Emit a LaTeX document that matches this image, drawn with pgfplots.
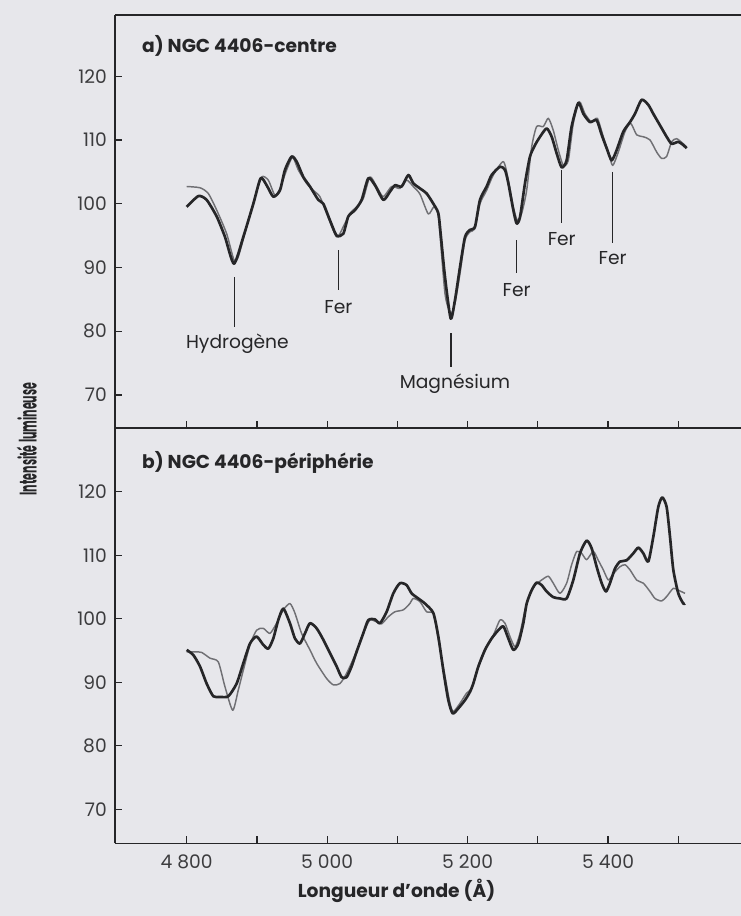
\documentclass[border=0pt]{standalone}
\usepackage{pgfplots}
\pgfplotsset{compat=1.18}
\usepackage{fontspec}
\setmainfont{Poppins}
\usepackage{graphicx}
\definecolor{bg}{RGB}{231,231,235}
\definecolor{ink}{RGB}{38,38,40}
\definecolor{tickc}{RGB}{60,60,62}
\definecolor{grayline}{RGB}{112,112,116}

\pgfplotstableread{
x y
4800 99.5
4816.6 101.2
4828.4 100.6
4842.7 98.0
4854.5 94.8
4867.3 90.6
4880.6 94.8
4894.9 100.0
4905.3 104.0
4913.8 102.9
4923.3 101.1
4932.8 102.1
4939.9 105.3
4949.4 107.4
4956.6 106.6
4966.0 104.2
4975.5 102.7
4987.4 100.6
4994.5 100.0
5004.0 97.4
5013.5 95.0
5023.0 95.3
5030.1 98.0
5039.6 99.0
5049.1 100.6
5058.6 104.0
5068.1 102.9
5080.0 100.6
5089.5 101.9
5096.6 102.9
5106.1 102.7
5115.6 104.5
5122.7 103.2
5132.2 102.4
5141.7 101.6
5151.2 100.0
5158.3 98.5
5161.6 95.3
5167.8 88.5
5175.9 82.0
5182.0 84.9
5189.2 90.1
5196.3 94.8
5203.4 95.9
5210.5 96.4
5217.6 100.6
5227.1 102.7
5234.2 104.5
5246.1 105.8
5253.2 105.3
5258.0 103.2
5265.1 99.0
5269.8 96.9
5274.6 97.9
5281.7 103.2
5288.8 107.4
5296.0 109.2
5303.1 110.5
5312.5 111.8
5319.7 110.5
5326.8 107.9
5333.9 105.7
5341.0 106.8
5348.1 112.1
5357.6 115.8
5364.8 114.1
5374.2 112.8
5383.7 113.1
5390.9 110.8
5398.0 108.7
5405.1 106.8
5412.2 108.4
5421.7 111.3
5431.2 112.8
5438.3 114.1
5447.8 116.3
5457.3 115.5
5464.4 114.1
5473.9 112.3
5483.4 110.5
5490.5 109.4
5500.0 109.7
5507.1 109.2
5511.9 108.7
}\centreA

\pgfplotstableread{
x y
4800 102.7
4819.0 102.5
4830.8 101.6
4842.7 99.0
4856.9 95.3
4867.3 91.2
4873.5 91.7
4885.4 96.4
4897.2 101.1
4906.7 104.2
4916.2 103.7
4925.7 101.3
4932.8 102.4
4942.3 105.3
4950.8 107.3
4958.9 105.3
4970.7 103.2
4980.2 102.1
4989.7 101.1
4999.2 98.5
5013.5 94.8
5023.0 96.4
5032.5 98.5
5041.9 99.5
5051.4 100.8
5060.9 104.2
5070.4 102.7
5079.9 101.1
5091.8 102.7
5103.6 102.4
5113.1 103.7
5122.6 102.7
5132.2 101.5
5144.0 98.4
5152.0 99.5
5158.3 98.0
5167.8 85.9
5175.9 82.8
5182.0 84.4
5189.2 89.1
5196.3 94.3
5203.4 95.6
5210.5 96.1
5217.6 100.0
5227.1 102.1
5236.6 104.5
5250.9 106.6
5258.0 103.7
5265.1 99.5
5270.8 97.4
5277.0 98.5
5284.1 102.1
5291.2 108.9
5298.3 112.1
5307.8 112.1
5314.9 113.4
5322.0 111.5
5329.2 108.4
5336.3 106.0
5343.4 106.8
5350.5 112.6
5359.0 116.0
5367.1 114.1
5376.6 112.8
5384.7 113.4
5393.2 110.5
5400.4 108.1
5406.5 106.0
5414.6 108.1
5424.1 111.3
5432.2 112.6
5440.7 110.8
5450.2 110.5
5459.7 110.0
5469.2 108.1
5476.3 107.1
5483.4 107.4
5490.5 109.7
5497.7 110.2
5507.1 109.4
5511.9 108.9
}\centreB

\pgfplotstableread{
x y
4800 95.1
4809.4 94.3
4818.9 92.5
4828.4 89.8
4837.9 87.8
4847.4 87.7
4859.2 87.8
4871.1 89.8
4880.6 93.0
4890.1 96.1
4899.5 97.2
4909.0 95.9
4916.2 95.3
4923.3 96.9
4930.4 99.8
4937.6 101.6
4947.0 99.3
4954.1 96.9
4961.3 96.1
4968.4 97.7
4975.5 99.3
4985.0 98.5
4994.5 96.7
5004.0 94.6
5013.5 92.5
5020.6 90.8
5027.7 90.8
5034.8 92.5
5041.9 94.8
5051.4 97.7
5058.6 99.8
5068.1 99.9
5075.2 99.3
5084.7 101.1
5094.2 104.0
5103.6 105.6
5113.1 105.3
5120.3 104.0
5129.7 103.2
5139.2 102.4
5151.2 100.9
5158.3 97.2
5165.4 91.9
5172.5 87.2
5178.7 85.1
5186.8 85.9
5196.3 87.2
5203.4 88.5
5208.1 89.8
5215.3 92.5
5224.7 95.1
5234.2 96.9
5243.7 98.2
5250.9 98.8
5258.0 96.9
5265.1 95.1
5272.2 96.1
5279.3 99.3
5284.1 102.4
5291.2 104.5
5298.3 105.7
5305.4 105.3
5312.5 104.3
5322.0 103.4
5331.5 103.2
5341.0 103.2
5350.5 106.1
5360.0 110.3
5369.5 112.3
5376.6 111.1
5383.7 108.2
5390.9 105.6
5397.0 104.3
5402.7 105.6
5409.8 107.9
5417.0 109.0
5426.4 109.2
5435.9 110.3
5443.1 111.2
5450.2 110.3
5457.3 109.0
5464.4 112.9
5471.5 117.6
5477.2 119.1
5483.4 117.6
5488.2 112.9
5492.9 107.7
5500.0 104.0
5507.1 102.4
5509.5 102.4
}\periA

\pgfplotstableread{
x y
4800 94.8
4811.8 94.8
4821.3 94.7
4833.2 93.8
4845.0 93.2
4854.5 89.3
4865.5 85.6
4873.5 88.8
4880.6 91.9
4890.1 95.9
4899.5 98.2
4909.0 98.5
4918.5 97.7
4928.0 99.3
4937.6 101.4
4947.0 102.4
4954.1 100.9
4963.6 97.7
4975.5 95.1
4985.0 93.0
4999.2 90.6
5008.7 89.6
5018.2 89.8
5027.7 91.4
5039.6 94.3
5051.4 97.7
5060.9 99.8
5070.4 99.5
5077.5 99.2
5087.0 100.3
5096.5 101.1
5108.4 101.4
5117.8 102.4
5122.6 103.2
5132.1 102.7
5141.6 101.1
5151.1 100.8
5158.3 96.7
5167.8 90.9
5174.9 86.7
5179.7 85.4
5189.2 86.7
5198.6 88.3
5205.8 89.0
5210.5 90.9
5217.6 93.0
5227.1 95.6
5236.6 97.4
5246.1 99.8
5253.2 99.3
5260.3 97.2
5267.5 95.6
5274.6 97.7
5281.7 101.4
5288.8 104.0
5296.0 105.3
5305.4 106.1
5314.9 106.7
5322.0 105.6
5331.5 104.0
5341.0 105.6
5348.1 108.5
5355.3 110.6
5362.4 110.3
5369.5 109.3
5379.0 110.6
5386.1 109.2
5393.2 107.7
5400.4 106.1
5407.5 107.1
5417.0 108.2
5424.1 108.5
5431.2 107.7
5440.7 106.1
5450.2 105.6
5459.7 104.3
5466.8 103.2
5476.3 102.8
5483.4 103.5
5492.9 104.8
5500.0 104.5
5509.5 104.0
}\periB

\pgfplotsset{
  panel/.style={
    scale only axis,
    width=469.5pt,
    xmin=4697.9, xmax=5589.3,
    axis y line*=left,
    axis line style={-, draw=ink, line width=1.2pt},
    xtick={4800,4900,...,5500},
    xtick pos=left,
    ytick={70,80,90,100,110,120},
    yticklabels={70,80,90,100,110,120},
    ytick pos=left,
    tick align=inside,
    major tick length=5.25pt,
    tick style={draw=ink, line width=0.9pt},
    yticklabel style={font=\fontsize{14}{14}\selectfont, text=tickc, anchor=east, inner sep=0pt, xshift=-6pt},
  },
  thick line/.style={ink, line width=2pt, smooth, tension=0.4, line join=round},
  thin line/.style={grayline, line width=1.1pt, smooth, tension=0.4, line join=round},
  mark line/.style={ink, line width=1pt, forget plot},
}

\begin{document}
\begin{tikzpicture}[x=1pt,y=1pt]
\fill[bg] (0,0) rectangle (555.75,687);
\path[use as bounding box] (0,0) rectangle (555.75,687);

% panel a
\begin{axis}[panel,
  at={(86.25pt,365.8pt)}, anchor=south west,
  height=310pt,
  ymin=64.8, ymax=129.6,
  xticklabel=\empty,
]
\addplot[thin line] table[x=x,y=y] {\centreB};
\addplot[thick line] table[x=x,y=y] {\centreA};
\addplot[mark line] coordinates {(4867.8,88.5) (4867.8,80.7)};
\addplot[mark line] coordinates {(5015.9,92.7) (5015.9,86.5)};
\addplot[mark line] coordinates {(5176.3,79.7) (5176.3,74.4)};
\addplot[mark line] coordinates {(5269.9,94.3) (5269.9,89.1)};
\addplot[mark line] coordinates {(5334.0,105.3) (5334.0,97.0)};
\addplot[mark line] coordinates {(5406.6,105.0) (5406.6,93.8)};
\begin{scope}[every node/.style={font=\fontsize{14}{14}\selectfont, text=ink, anchor=base, inner sep=0pt}]
\node at (axis cs:4872.2,77.3) {Hydrogène};
\node at (axis cs:5015.9,82.8) {Fer};
\node at (axis cs:5182.0,71.1) {Magnésium};
\node at (axis cs:5269.9,85.4) {Fer};
\node at (axis cs:5334.0,93.4) {Fer};
\node at (axis cs:5406.6,90.4) {Fer};
\end{scope}
\node[anchor=base west, inner sep=0pt, text=ink, font=\bfseries\fontsize{14}{14}\selectfont] at (rel axis cs:0.043,0.908) {a) NGC 4406-centre};
\end{axis}

% panel b
\begin{axis}[panel,
  at={(86.25pt,54.5pt)}, anchor=south west,
  height=311.25pt,
  ymin=64.65, ymax=129.98,
  xticklabels={4\ 800,,5\ 000,,5\ 200,,5\ 400,},
  xticklabel style={font=\fontsize{14}{14}\selectfont, text=tickc, anchor=base, inner sep=0pt, yshift=-18.75pt},
  xlabel={Longueur d’onde (Å)},
  xlabel style={at={(rel axis cs:0.4497,0)}, anchor=base, inner sep=0pt, yshift=-40.3pt, font=\bfseries\fontsize{14}{14}\selectfont, text=ink},
]
\addplot[thin line] table[x=x,y=y] {\periB};
\addplot[thick line] table[x=x,y=y] {\periA};
\node[anchor=base west, inner sep=0pt, text=ink, font=\bfseries\fontsize{14}{14}\selectfont] at (rel axis cs:0.043,0.904) {b) NGC 4406-périphérie};
\end{axis}

\node[rotate=90, anchor=base, inner sep=0pt, text=ink, font=\bfseries\fontsize{18}{18}\selectfont] at (27.5,357.75) {\scalebox{0.46}[1]{Intensité lumineuse}};
\end{tikzpicture}
\end{document}
